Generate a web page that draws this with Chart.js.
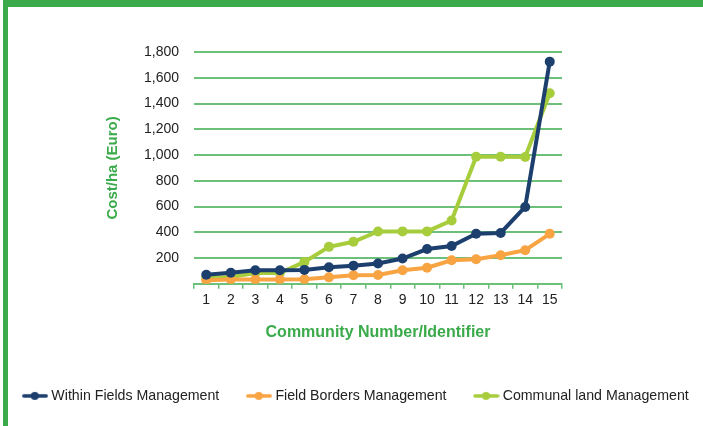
<!DOCTYPE html>
<html>
<head>
<meta charset="utf-8">
<script src="https://cdn.jsdelivr.net/npm/chart.js@4.4.1/dist/chart.umd.min.js"></script>
<style>
  html, body { margin: 0; padding: 0; background: #fff; }
  #wrap { position: relative; width: 703px; height: 426px; overflow: hidden; }
  #c { position: absolute; left: 0; top: 0; }
  #topbar { position: absolute; left: 3px; top: 0; width: 700px; height: 7px; background: #3aaa4a; }
  #leftbar { position: absolute; left: 3px; top: 0; width: 5px; height: 426px; background: #3aaa4a; }
</style>
</head>
<body>
<div id="wrap">
  <canvas id="c" width="703" height="426"></canvas>
  <div id="topbar"></div>
  <div id="leftbar"></div>
</div>
<script>
const categories = ["1","2","3","4","5","6","7","8","9","10","11","12","13","14","15"];
const withinFields = [70, 86, 105, 105, 108, 128, 141, 158, 196, 270, 293, 389, 395, 597, 1725];
const fieldBorders = [27, 34, 34, 34, 35, 50, 66, 69, 105, 125, 183, 191, 222, 261, 388];
const communalLand = [45, 52, 84, 84, 170, 287, 326, 406, 407, 407, 491, 987, 987, 985, 1480];
const seriesNames = ["Within Fields Management", "Field Borders Management", "Communal land Management"];
const yTicks = [0, 200, 400, 600, 800, 1000, 1200, 1400, 1600, 1800];

const colors = ["#1c3f6e", "#f9a443", "#a7cd3c"];
const green = "#3aaa4a";
const gridGreen = "#6cc07a";
const FONT = 'Liberation Sans, Arial, sans-serif';

function legendMarker(color) {
  const cv = document.createElement('canvas');
  cv.width = 30; cv.height = 10;
  const g = cv.getContext('2d');
  g.strokeStyle = color; g.lineWidth = 3.5; g.lineCap = 'round';
  g.beginPath(); g.moveTo(5.5, 5); g.lineTo(28, 5); g.stroke();
  g.fillStyle = color;
  g.beginPath(); g.arc(16.5, 5, 4, 0, Math.PI * 2); g.fill();
  return cv;
}

const dataSets = [withinFields, fieldBorders, communalLand].map((vals, i) => ({
  label: seriesNames[i],
  data: vals,
  borderColor: colors[i],
  backgroundColor: colors[i],
  borderWidth: 4,
  pointRadius: 5,
  pointHoverRadius: 5,
  pointBorderWidth: 0,
  tension: 0,
  pointStyle: 'circle',
  legendMarker: legendMarker(colors[i])
}));

new Chart(document.getElementById('c'), {
  type: 'line',
  data: { labels: categories, datasets: dataSets },
  options: {
    responsive: false,
    animation: false,
    devicePixelRatio: 1,
    layout: { padding: { top: 52, left: -6, right: -14, bottom: 13 } },
    plugins: {
      tooltip: { enabled: false },
      legend: {
        position: 'bottom',
        labels: {
          usePointStyle: true,
          pointStyleWidth: 22,
          padding: 27,
          color: '#222',
          font: { family: FONT, size: 14.2 },
          generateLabels: (chart) => chart.data.datasets.map((ds, i) => ({
            text: ds.label,
            pointStyle: ds.legendMarker,
            fillStyle: ds.borderColor,
            strokeStyle: ds.borderColor,
            lineWidth: 0,
            fontColor: '#222',
            datasetIndex: i,
            hidden: false
          }))
        }
      }
    },
    scales: {
      x: {
        offset: true,
        grid: {
          offset: true,
          drawOnChartArea: false,
          drawTicks: true,
          tickLength: 5,
          color: gridGreen,
          lineWidth: 1.5
        },
        border: { display: true, color: gridGreen, width: 2 },
        ticks: {
          color: '#222',
          padding: 3,
          maxRotation: 0,
          font: { family: FONT, size: 14 }
        },
        title: {
          display: true,
          text: 'Community Number/Identifier',
          color: green,
          font: { family: FONT, size: 16, weight: 'bold' },
          padding: { top: 4, bottom: 20 }
        },
        afterFit: (s) => { s.height = 78; }
      },
      y: {
        min: 0,
        max: 1800,
        afterBuildTicks: (s) => { s.ticks = yTicks.map(v => ({ value: v })); },
        grid: {
          drawTicks: false,
          color: (ctx) => ctx.tick && ctx.tick.value === 0 ? 'rgba(0,0,0,0)' : gridGreen,
          lineWidth: 2
        },
        border: { display: false },
        ticks: {
          color: '#222',
          padding: 15,
          font: { family: FONT, size: 14 },
          callback: (v) => v === 0 ? '' : v.toLocaleString('en-US')
        },
        title: {
          display: true,
          text: 'Cost/ha (Euro)',
          color: green,
          font: { family: FONT, size: 15, weight: 'bold' },
          padding: { top: 110, bottom: 0 }
        },
        afterFit: (s) => { s.width = 200; }
      },
      yR: {
        position: 'right',
        display: true,
        grid: { display: false },
        border: { display: false },
        ticks: { display: false },
        afterFit: (s) => { s.width = 155; }
      }
    }
  }
});
</script>
</body>
</html>
